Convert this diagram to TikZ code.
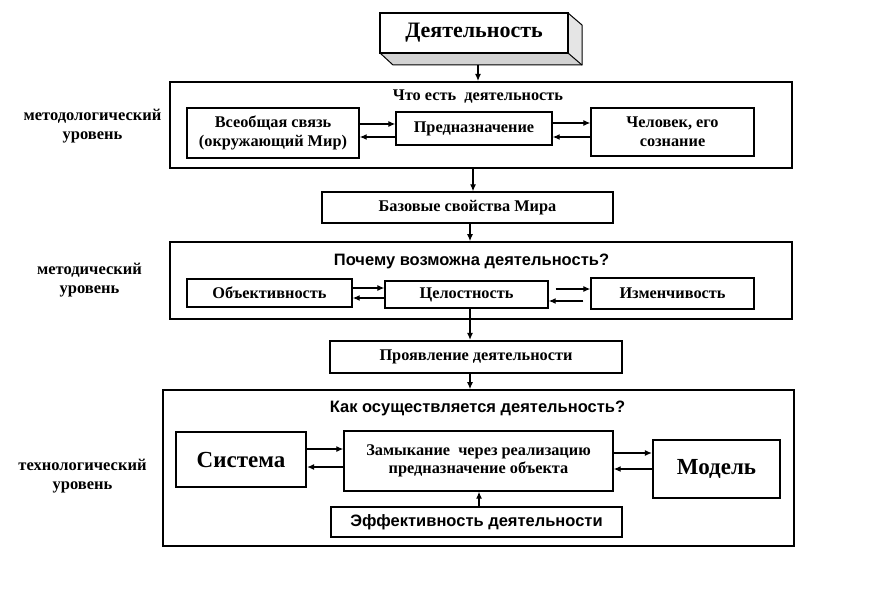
\documentclass[tikz,border=0pt]{standalone}
\usepackage{fontspec}
\setmainfont{Liberation Serif}
\setsansfont{Liberation Sans}
\usetikzlibrary{arrows.meta,calc}
\begin{document}
\begin{tikzpicture}[x=1pt,y=-1pt,
  frame/.style={draw, line width=2pt, inner sep=0pt},
  box/.style={draw, line width=1.4pt, inner sep=0pt, align=center, font=\bfseries\fontsize{16.3}{19}\selectfont},
  heavybox/.style={draw, line width=2.2pt, inner sep=0pt, align=center},
  lbl/.style={align=center, font=\bfseries\fontsize{16.5}{19}\selectfont},
  ttl/.style={font=\sffamily\bfseries\fontsize{16.5}{18}\selectfont},
  arr/.style={-{Latex[length=7pt,width=6pt]}, line width=1.2pt}]
\useasboundingbox (0,0) rectangle (890,604);
% top 3D box
\fill[gray!35] (380,53) -- (568,53) -- (582,65) -- (393,65) -- cycle;
\fill[gray!20] (568,13) -- (582,25) -- (582,65) -- (568,53) -- cycle;
\draw[line width=1pt] (380,53) -- (393,65) -- (582,65) -- (582,25) -- (568,13);
\draw[line width=1pt] (568,53) -- (582,65);
\node[draw, line width=1.5pt, fill=white, minimum width=188pt, minimum height=40pt, inner sep=0pt,
  font=\bfseries\fontsize{22}{24}\selectfont] (top) at (474,33) {Деятельность};
\coordinate (topbase) at (478,65);
% level 1
\node[frame, minimum width=622pt, minimum height=86pt] (m1) at (481,125) {};
\node[font=\bfseries\fontsize{16.3}{18}\selectfont] (t1) at (478,97) {Что есть\ \ деятельность};
\node[box, minimum width=172pt, minimum height=50pt] (vs) at (273,133) {Всеобщая связь\\(окружающий Мир)};
\node[box, minimum width=156pt, minimum height=33pt] (pr) at (474,128.5) {Предназначение};
\node[box, minimum width=163pt, minimum height=48pt] (ch) at (672.5,132) {Человек, его\\сознание};
\node[lbl] (l1) at (92.5,126) {методологический\\уровень};
\node[box, minimum width=291pt, minimum height=31pt] (bz) at (467.5,207.5) {Базовые свойства Мира};
% level 2
\node[frame, line width=1.6pt, minimum width=622pt, minimum height=77pt] (m2) at (481,280.5) {};
\node[ttl] (t2) at (471.5,261) {Почему возможна деятельность?};
\node[box, minimum width=165pt, minimum height=28pt] (ob) at (269.5,293) {Объективность};
\node[box, minimum width=163pt, minimum height=27pt] (cel) at (466.5,294.5) {Целостность};
\node[box, minimum width=163pt, minimum height=31pt] (iz) at (672.5,293.5) {Изменчивость};
\node[lbl] (l2) at (89.5,280) {методический\\уровень};
\node[heavybox, minimum width=292pt, minimum height=32pt, font=\bfseries\fontsize{16.3}{18}\selectfont] (pv) at (476,357) {Проявление деятельности};
% level 3
\node[frame, line width=1.6pt, minimum width=631pt, minimum height=156pt] (m3) at (478.5,468) {};
\node[ttl] (t3) at (477.5,408) {Как осуществляется деятельность?};
\node[heavybox, minimum width=130pt, minimum height=55pt, font=\bfseries\fontsize{23}{26}\selectfont] (sys) at (241,459.5) {Система};
\node[box, minimum width=269pt, minimum height=60pt, font=\bfseries\fontsize{16.3}{18}\selectfont] (zam) at (478.5,461) {Замыкание\ \ через реализацию\\предназначение объекта};
\node[heavybox, minimum width=127pt, minimum height=58pt, font=\bfseries\fontsize{23}{26}\selectfont] (mod) at (716.5,469) {Модель};
\node[heavybox, minimum width=291pt, minimum height=30pt, font=\sffamily\bfseries\fontsize{16.5}{18}\selectfont] (ef) at (476.5,522) {Эффективность деятельности};
\node[lbl] (l3) at (82.5,476) {технологический\\уровень};
% vertical arrows
\draw[arr] (topbase) -- (m1.north -| topbase);
\draw[arr] (m1.south -| 473,0) -- (bz.north -| 473,0);
\draw[arr] (bz.south -| 470,0) -- (m2.north -| 470,0);
\draw[arr] (cel.south -| 470,0) -- (pv.north -| 470,0);
\draw[arr] (pv.south -| 470,0) -- (m3.north -| 470,0);
\draw[arr] (ef.north -| 479,0) -- (zam.south -| 479,0);
% horizontal pairs
\draw[arr] (vs.east |- 0,124) -- (pr.west |- 0,124);
\draw[arr] (pr.west |- 0,137) -- (vs.east |- 0,137);
\draw[arr] (pr.east |- 0,123) -- (ch.west |- 0,123);
\draw[arr] (ch.west |- 0,137) -- (pr.east |- 0,137);
\draw[arr] (ob.east |- 0,288) -- (cel.west |- 0,288);
\draw[arr] (cel.west |- 0,298) -- (ob.east |- 0,298);
\draw[arr] ($(cel.east |- 0,289)+(7,0)$) -- (iz.west |- 0,289);
\draw[arr] ($(iz.west |- 0,301)+(-7,0)$) -- (cel.east |- 0,301);
\draw[arr] (sys.east |- 0,449) -- (zam.west |- 0,449);
\draw[arr] (zam.west |- 0,467) -- (sys.east |- 0,467);
\draw[arr] (zam.east |- 0,453) -- (mod.west |- 0,453);
\draw[arr] (mod.west |- 0,469) -- (zam.east |- 0,469);
\end{tikzpicture}
\end{document}
